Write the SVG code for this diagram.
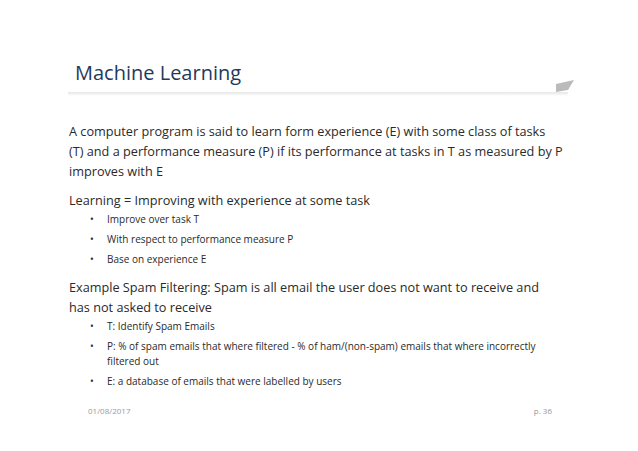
<svg xmlns="http://www.w3.org/2000/svg" width="638" height="451" viewBox="0 0 638 451">
<defs>
<linearGradient id="sh" x1="0" y1="0" x2="0" y2="1"><stop offset="0" stop-color="#e6e6e6"/><stop offset="1" stop-color="#ffffff"/></linearGradient>
</defs>
<style>
text{font-family:"Open Sans","DejaVu Sans",sans-serif;fill:#2a2a2a}
.t{font-size:20px;fill:#1f3b5c}
.b{font-size:12.7px}
.s{font-size:10px}
.f{font-size:8px;fill:#999}
</style>
<rect width="638" height="451" fill="#fff"/>
<rect x="68" y="92" width="500" height="4" fill="url(#sh)"/>
<polygon points="556,84 574,80 568,90 556,92" fill="#bbb"/>
<text class="t" x="75" y="80">Machine Learning</text>
<text class="b" x="69" y="136">A computer program is said to learn form experience (E) with some class of tasks</text>
<text class="b" x="69" y="156">(T) and a performance measure (P) if its performance at tasks in T as measured by P</text>
<text class="b" x="69" y="176">improves with E</text>
<text class="b" x="69" y="205">Learning = Improving with experience at some task</text>
<text class="s" x="90" y="223">•</text><text class="s" x="107" y="223">Improve over task T</text>
<text class="s" x="90" y="243">•</text><text class="s" x="107" y="243">With respect to performance measure P</text>
<text class="s" x="90" y="263">•</text><text class="s" x="107" y="263">Base on experience E</text>
<text class="b" x="69" y="292">Example Spam Filtering: Spam is all email the user does not want to receive and</text>
<text class="b" x="69" y="312">has not asked to receive</text>
<text class="s" x="90" y="330">•</text><text class="s" x="107" y="330">T: Identify Spam Emails</text>
<text class="s" x="90" y="350">•</text><text class="s" x="107" y="350">P: % of spam emails that where filtered - % of ham/(non-spam) emails that where incorrectly</text>
<text class="s" x="107" y="365">filtered out</text>
<text class="s" x="90" y="385">•</text><text class="s" x="107" y="385">E: a database of emails that were labelled by users</text>
<text class="f" x="88" y="414">01/08/2017</text>
<text class="f" x="552" y="414" text-anchor="end">p. 36</text>
</svg>
